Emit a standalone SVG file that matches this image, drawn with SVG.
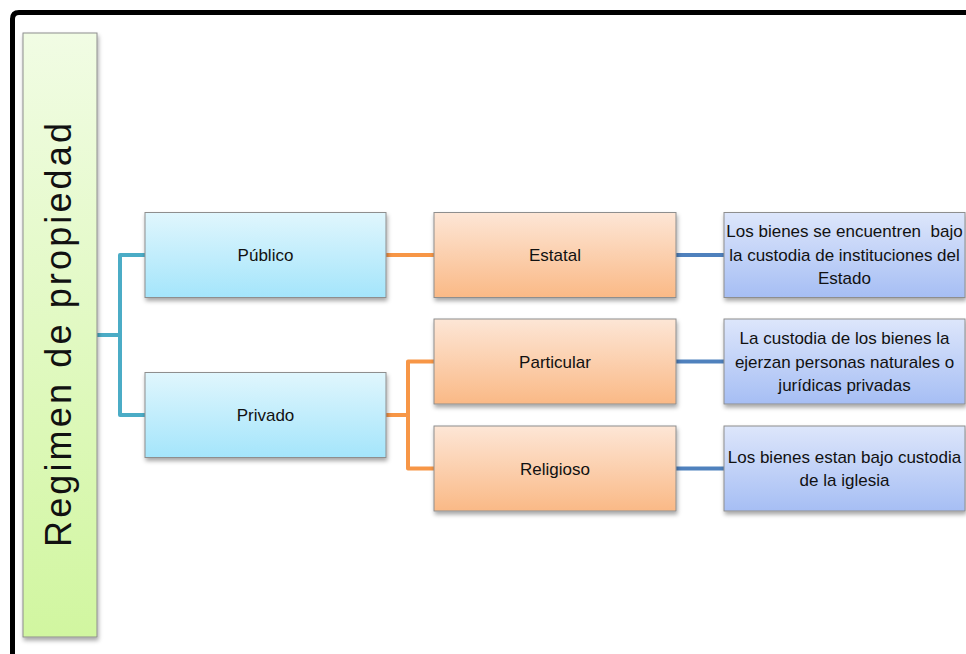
<svg xmlns="http://www.w3.org/2000/svg" width="966" height="654" viewBox="0 0 966 654">
<style>
.lbl{font-family:"Liberation Sans",Arial,sans-serif;font-size:17px;fill:#111;text-anchor:middle}
.box{stroke:#8e8e8e;stroke-width:1;filter:url(#sh)}
.c{fill:none;stroke-width:4;stroke-linejoin:round;stroke-linecap:butt}
</style>
<defs>
<linearGradient id="gGreen" x1="0" y1="0" x2="0" y2="1"><stop offset="0" stop-color="#f1fce4"/><stop offset="1" stop-color="#d1f6a0"/></linearGradient>
<linearGradient id="gCyan" x1="0" y1="0" x2="0" y2="1"><stop offset="0" stop-color="#e0f6fd"/><stop offset="1" stop-color="#a4e5fb"/></linearGradient>
<linearGradient id="gOrange" x1="0" y1="0" x2="0" y2="1"><stop offset="0" stop-color="#fde6d6"/><stop offset="1" stop-color="#fab986"/></linearGradient>
<linearGradient id="gBlue" x1="0" y1="0" x2="0" y2="1"><stop offset="0" stop-color="#dde6fb"/><stop offset="1" stop-color="#a6bef4"/></linearGradient>
<filter id="sh" x="-10%" y="-10%" width="125%" height="130%"><feDropShadow dx="1" dy="3" stdDeviation="2" flood-color="#000" flood-opacity="0.35"/></filter>
</defs>
<rect width="966" height="654" fill="#fff"/>
<path d="M12.5 660 V19 Q12.5 12.5 19 12.5 H970" fill="none" stroke="#000" stroke-width="5"/>
<g id="connectors">
<path class="c" stroke="#4bacc6" d="M97 335 H120 M145 255 H120 V415 H145"/>
<path class="c" stroke="#f79646" d="M386 255 H434 M386 415 H408 M434 361.5 H408 V468.5 H434"/>
<path class="c" stroke="#4f81bd" d="M676 255 H724 M676 361.5 H724 M676 468.5 H724"/>
</g>
<g id="root">
<rect class="box" x="23" y="33" width="74" height="604" fill="url(#gGreen)"/>
<text transform="translate(71,335) rotate(-90)" font-family="'Liberation Sans',Arial,sans-serif" font-size="36" fill="#111" text-anchor="middle" textLength="424" lengthAdjust="spacing">Regimen de propiedad</text>
</g>
<g id="publico">
<rect class="box" x="145" y="212.5" width="241" height="85" fill="url(#gCyan)"/>
<text class="lbl" x="265.5" y="261">Público</text>
</g>
<g id="privado">
<rect class="box" x="145" y="372.5" width="241" height="85" fill="url(#gCyan)"/>
<text class="lbl" x="265.5" y="421">Privado</text>
</g>
<g id="estatal">
<rect class="box" x="434" y="212.5" width="242" height="85" fill="url(#gOrange)"/>
<text class="lbl" x="555" y="261">Estatal</text>
</g>
<g id="particular">
<rect class="box" x="434" y="319" width="242" height="85" fill="url(#gOrange)"/>
<text class="lbl" x="555" y="367.5">Particular</text>
</g>
<g id="religioso">
<rect class="box" x="434" y="426" width="242" height="85" fill="url(#gOrange)"/>
<text class="lbl" x="555" y="474.5">Religioso</text>
</g>
<g id="desc-estatal">
<rect class="box" x="724" y="212.5" width="241" height="85" fill="url(#gBlue)"/>
<text class="lbl" x="844.5" y="237">Los bienes se encuentren&#160; bajo</text>
<text class="lbl" x="844.5" y="261">la custodia de instituciones del</text>
<text class="lbl" x="844.5" y="284">Estado</text>
</g>
<g id="desc-particular">
<rect class="box" x="724" y="319" width="241" height="85" fill="url(#gBlue)"/>
<text class="lbl" x="844.5" y="344">La custodia de los bienes la</text>
<text class="lbl" x="844.5" y="367.5">ejerzan personas naturales o</text>
<text class="lbl" x="844.5" y="391">jurídicas privadas</text>
</g>
<g id="desc-religioso">
<rect class="box" x="724" y="426" width="241" height="85" fill="url(#gBlue)"/>
<text class="lbl" x="844.5" y="463">Los bienes estan bajo custodia</text>
<text class="lbl" x="844.5" y="486">de la iglesia</text>
</g>
</svg>
